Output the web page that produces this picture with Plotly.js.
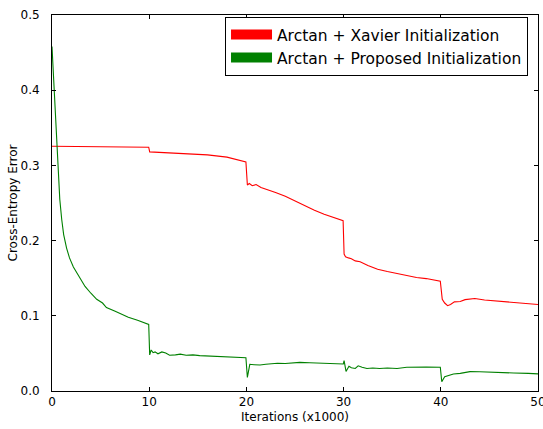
<!DOCTYPE html>
<html>
<head>
<meta charset="utf-8">
<script src="https://cdn.plot.ly/plotly-3.0.1.min.js"></script>
<style>html,body{margin:0;padding:0;background:#fff;}#chart{width:543px;height:429px;}</style>
</head>
<body>
<div id="chart"></div>
<script>
var seriesNames = ["Arctan + Xavier Initialization", "Arctan + Proposed Initialization"];

var xavierX = [0, 2, 5, 8, 9.95, 10.05, 12, 14, 16, 18, 19.95, 20.1, 20.3, 20.6, 21, 21.5, 22, 23, 24, 25, 26, 27, 28, 29, 29.95, 30.05, 30.2, 30.5, 30.8, 31.2, 31.7, 32.5, 33.5, 34.5, 35.5, 36.5, 37.5, 38.5, 39.95, 40.15, 40.4, 40.7, 41.0, 41.4, 42, 42.5, 43.5, 44.5, 45.5, 46.5, 47.5, 48.5, 50];
var xavierY = [0.3255, 0.3252, 0.325, 0.3245, 0.3242, 0.318, 0.317, 0.3155, 0.314, 0.311, 0.3045, 0.274, 0.276, 0.273, 0.2745, 0.2705, 0.2685, 0.264, 0.259, 0.2525, 0.246, 0.2405, 0.235, 0.2305, 0.2265, 0.182, 0.1785, 0.177, 0.176, 0.173, 0.172, 0.167, 0.162, 0.159, 0.156, 0.153, 0.151, 0.1495, 0.146, 0.122, 0.117, 0.1135, 0.115, 0.1185, 0.119, 0.1215, 0.123, 0.121, 0.12, 0.1185, 0.1175, 0.1165, 0.115];

var proposedX = [0, 0.15, 0.3, 0.45, 0.6, 0.8, 1.0, 1.2, 1.5, 1.8, 2.2, 2.8, 3.4, 4.0, 4.6, 5.2, 5.6, 6.5, 7.2, 7.85, 8.8, 9.95, 10.05, 10.2, 10.4, 10.6, 10.9, 11.3, 11.7, 12.1, 12.7, 13.2, 13.8, 14.5, 15.2, 16, 17, 18, 19, 19.95, 20.1, 20.35, 20.8, 21.4, 22, 22.5, 23.2, 24, 24.8, 25.5, 26.5, 27.5, 28.5, 29.4, 29.97, 30.05, 30.25, 30.55, 30.8, 31.2, 31.5, 31.9, 32.4, 33, 33.7, 34.5, 35.5, 36.5, 37.2, 38.5, 39.95, 40.1, 40.4, 40.8, 41.3, 42, 43, 44, 45, 46, 47.5, 49, 50];
var proposedY = [0.458, 0.42, 0.38, 0.33, 0.29, 0.255, 0.228, 0.208, 0.19, 0.177, 0.165, 0.152, 0.139, 0.13, 0.122, 0.117, 0.111, 0.106, 0.102, 0.098, 0.094, 0.0885, 0.048, 0.0545, 0.051, 0.052, 0.0495, 0.052, 0.0505, 0.0475, 0.048, 0.049, 0.0475, 0.048, 0.047, 0.0465, 0.046, 0.0455, 0.045, 0.0443, 0.018, 0.0355, 0.035, 0.0345, 0.0355, 0.036, 0.037, 0.0365, 0.0378, 0.038, 0.0375, 0.037, 0.0365, 0.036, 0.036, 0.0405, 0.026, 0.033, 0.031, 0.030, 0.0335, 0.0315, 0.030, 0.0305, 0.030, 0.0305, 0.030, 0.0315, 0.032, 0.032, 0.0315, 0.0124, 0.019, 0.021, 0.0226, 0.0235, 0.0257, 0.0255, 0.0248, 0.0243, 0.024, 0.0235, 0.0228];

var xTicks = [0, 10, 20, 30, 40, 50];
var xTickText = ["0", "10", "20", "30", "40", "50"];
var yTicks = [0, 0.1, 0.2, 0.3, 0.4, 0.5];
var yTickText = ["0.0", "0.1", "0.2", "0.3", "0.4", "0.5"];

var red = "#ff0000", green = "#008000";

var traces = [
  {x: xavierX, y: xavierY, type: "scatter", mode: "lines", line: {color: red, width: 1.1}, showlegend: false, hoverinfo: "skip"},
  {x: proposedX, y: proposedY, type: "scatter", mode: "lines", line: {color: green, width: 1.1}, showlegend: false, hoverinfo: "skip"},
  {x: [null], y: [null], type: "scatter", mode: "lines", name: seriesNames[0], line: {color: red, width: 10}},
  {x: [null], y: [null], type: "scatter", mode: "lines", name: seriesNames[1], line: {color: green, width: 10}}
];

var axisCommon = {
  showgrid: false, zeroline: false, showline: true, linecolor: "#000", linewidth: 1,
  mirror: "allticks", ticks: "inside", ticklen: 4, tickcolor: "#000", tickwidth: 1,
  tickfont: {family: "DejaVu Sans", size: 12, color: "#000"}
};

var layout = {
  width: 543, height: 429,
  margin: {l: 52, r: 5, t: 15, b: 38},
  paper_bgcolor: "#fff", plot_bgcolor: "#fff",
  font: {family: "DejaVu Sans", color: "#000"},
  xaxis: Object.assign({}, axisCommon, {
    range: [0, 50], tickvals: xTicks, ticktext: xTickText,
    ticklabelstandoff: 0, ticklabeloverflow: "allow",
    title: {text: "Iterations (x1000)", font: {family: "DejaVu Sans", size: 12, color: "#000"}, standoff: 4}
  }),
  yaxis: Object.assign({}, axisCommon, {
    range: [0, 0.5], tickvals: yTicks, ticktext: yTickText,
    ticklabelstandoff: 9,
    title: {text: "Cross-Entropy Error", font: {family: "DejaVu Sans", size: 12, color: "#000"}, standoff: 0}
  }),
  legend: {
    x: 0.356, y: 0.995, xanchor: "left", yanchor: "top",
    bgcolor: "#fff", bordercolor: "#000", borderwidth: 1,
    font: {family: "DejaVu Sans", size: 15.5, color: "#000"},
    itemwidth: 41, tracegroupgap: 0
  }
};

Plotly.newPlot("chart", traces, layout, {staticPlot: true, displayModeBar: false});
</script>
</body>
</html>
